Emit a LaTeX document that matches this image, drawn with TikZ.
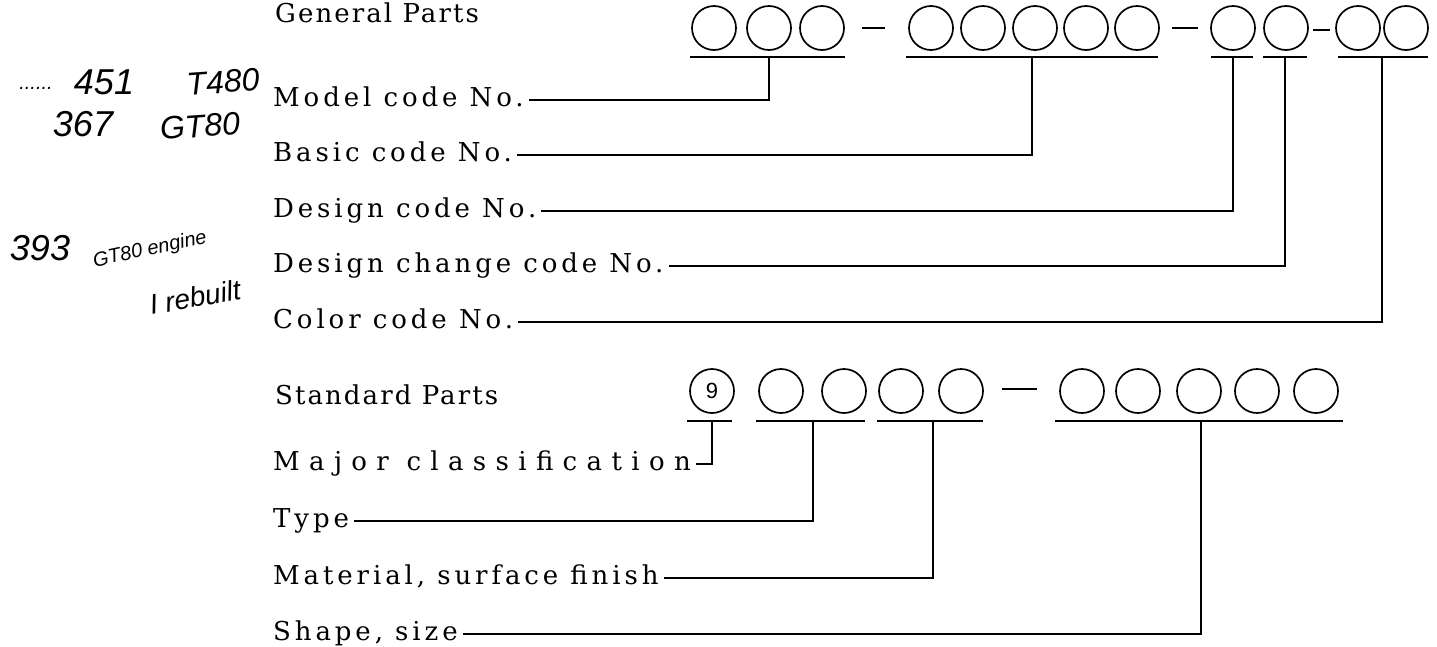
\documentclass[tikz,border=0pt]{standalone}
\usepackage{fontspec}
\setmainfont{DejaVu Serif}[LetterSpace=15]
\newfontfamily\headfont{DejaVu Serif}[LetterSpace=8]
\newfontfamily\widefont{DejaVu Serif}[LetterSpace=36]
\newfontfamily\hand{Liberation Sans}
\newfontfamily\digitfont{Liberation Sans}
\begin{document}
\begin{tikzpicture}[x=1pt,y=-1pt,
  ring/.style={circle,draw,line width=1.7pt,minimum size=44pt,inner sep=0pt},
  lbl/.style={anchor=base west,font=\fontsize{26}{30}\selectfont,inner sep=0pt},
  head/.style={anchor=base west,font=\headfont\fontsize{26}{30}\selectfont,inner sep=0pt},
  widelbl/.style={anchor=base west,font=\widefont\fontsize{26}{30}\selectfont,inner sep=0pt},
  uline/.style={line width=2pt},
  conn/.style={line width=1.6pt},
  hw/.style={font=\hand\itshape\fontsize{32}{34}\selectfont,inner sep=0pt},
  hwsmall/.style={font=\hand\itshape\fontsize{20}{24}\selectfont,inner sep=0pt}]
\useasboundingbox (0,0) rectangle (1437,646);

% ---------- General parts ----------
\foreach \n/\x in {a1/714,a2/769,a3/822,b1/931,b2/983,b3/1035,b4/1086,b5/1137,c1/1233,d1/1286,e1/1358,e2/1406}
  \node[ring] (\n) at (\x,28) {};
\draw[uline] (862,28) -- (885,28);
\draw[uline] (1172,28) -- (1198,28);
\draw[uline] (1313,30) -- (1330,30);

\draw[uline] (690,57) -- (845,57);
\draw[uline] (906,57) -- (1158,57);
\draw[uline] (1211,57) -- (1253,57);
\draw[uline] (1263,57) -- (1307,57);
\draw[uline] (1338,57) -- (1428,57);
\coordinate (uA) at (769,57);
\coordinate (uB) at (1032,57);
\coordinate (uC) at (1233,57);
\coordinate (uD) at (1285,57);
\coordinate (uE) at (1382,57);

\node[head] (gp)  at (275,22)  {General Parts};
\node[lbl] (lm)  at (273,106) {Model code No.};
\node[lbl] (lb)  at (273,161) {Basic code No.};
\node[lbl] (ld)  at (273,217) {Design code No.};
\node[lbl] (ldc) at (273,272) {Design change code No.};
\node[lbl] (lc)  at (273,328) {Color code No.};

\draw[conn] ([xshift=5pt,yshift=6pt]lm.base east)  -| (uA);
\draw[conn] ([xshift=5pt,yshift=6pt]lb.base east)  -| (uB);
\draw[conn] ([xshift=5pt,yshift=6pt]ld.base east)  -| (uC);
\draw[conn] ([xshift=5pt,yshift=6pt]ldc.base east) -| (uD);
\draw[conn] ([xshift=5pt,yshift=6pt]lc.base east)  -| (uE);

% ---------- Standard parts ----------
\node[ring,font=\digitfont\fontsize{22}{24}\selectfont] (s0) at (712,391) {9};
\foreach \n/\x in {s1/781,s2/844,s3/901,s4/961,t1/1082,t2/1138,t3/1199,t4/1257,t5/1316}
  \node[ring] (\n) at (\x,391) {};
\draw[uline] (1002,389) -- (1037,389);

\draw[uline] (687,421) -- (732,421);
\draw[uline] (756,421) -- (865,421);
\draw[uline] (877,421) -- (983,421);
\draw[uline] (1055,421) -- (1343,421);
\coordinate (vA) at (712,421);
\coordinate (vB) at (813,421);
\coordinate (vC) at (933,421);
\coordinate (vD) at (1201,421);

\node[head] (sp)   at (275,404) {Standard Parts};
\node[widelbl] (lmaj) at (273,470) {Major classification};
\node[lbl] (lt)   at (273,527) {Type};
\node[lbl] (lmat) at (273,584) {Material, surface finish};
\node[lbl] (ls)   at (273,640) {Shape, size};

\draw[conn] ([xshift=5pt,yshift=6pt]lmaj.base east) -| (vA);
\draw[conn] ([xshift=5pt,yshift=6pt]lt.base east)   -| (vB);
\draw[conn] ([xshift=5pt,yshift=6pt]lmat.base east) -| (vC);
\draw[conn] ([xshift=5pt,yshift=6pt]ls.base east)   -| (vD);

% ---------- handwriting ----------
\node[hwsmall] (hdots) at (36,88) {......};
\node[hw,font=\hand\itshape\fontsize{36}{38}\selectfont] (h1) at (104,82) {451};
\node[hw,rotate=4] (h2) at (223,82) {T480};
\node[hw,font=\hand\itshape\fontsize{36}{38}\selectfont] (h3) at (83,124) {367};
\node[hw,rotate=4] (h4) at (200,126) {GT80};
\node[hw,font=\hand\itshape\fontsize{36}{38}\selectfont] (h5) at (40,248) {393};
\node[hwsmall,rotate=12] (h6) at (150,250) {GT80 engine};
\node[hw,rotate=10,font=\hand\itshape\fontsize{28}{30}\selectfont] (h7) at (195,297) {I rebuilt};
\end{tikzpicture}
\end{document}
